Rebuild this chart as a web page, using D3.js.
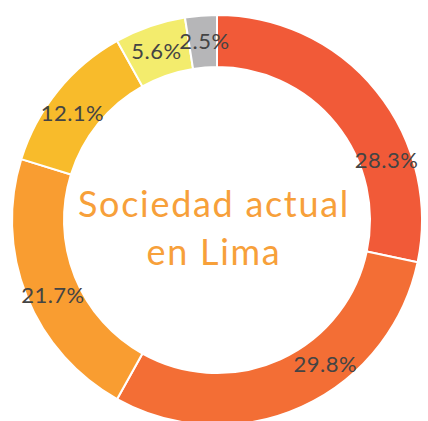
<!DOCTYPE html>
<html>
<head>
<meta charset="utf-8">
<script src="https://cdn.jsdelivr.net/npm/d3@7"></script>
<style>
  body { margin: 0; background: #fff; }
  svg { display: block; }
</style>
</head>
<body>
<script>
// Data, clockwise from 12 o'clock
var categories = ["A", "B", "C", "D", "E", "F"];
var values = [28.3, 29.8, 21.7, 12.1, 5.6, 2.5];
var labels = ["28.3%", "29.8%", "21.7%", "12.1%", "5.6%", "2.5%"];
var titleLines = ["Sociedad actual", "en Lima"];

var colors = ["#F15A38", "#F36E35", "#F99D31", "#F8BB2B", "#F3EC6D", "#B6B6B8"];

// small angle nudges (degrees) so labels sit where the original puts them
var labelNudge = [19.5, -12.5, -2.5, -2.5, -0.6, 0.5];

var svgWidth = 428;
var svgHeight = 421;
var cx = 217, cy = 220;
var outerR = 205, innerR = 153, labelR = 180;

var svg = d3.select("body")
  .append("svg")
  .attr("width", svgWidth)
  .attr("height", svgHeight);

var chartGroup = svg.append("g")
  .attr("transform", `translate(${cx}, ${cy})`);

var color = d3.scaleOrdinal()
  .domain(categories)
  .range(colors);

var data = categories.map((c, i) => ({ cat: c, value: values[i], label: labels[i], i: i }));

var pie = d3.pie()
  .sort(null)
  .value(d => d.value);

var arc = d3.arc()
  .innerRadius(innerR)
  .outerRadius(outerR);

var arcs = pie(data);

chartGroup.selectAll("path.slice")
  .data(arcs)
  .enter()
  .append("path")
  .attr("class", "slice")
  .attr("d", arc)
  .attr("fill", d => color(d.data.cat))
  .attr("stroke", "#fff")
  .attr("stroke-width", 2);

function labelAngle(d) {
  return (d.startAngle + d.endAngle) / 2 + labelNudge[d.data.i] * Math.PI / 180;
}

// labels
chartGroup.selectAll("text.lbl")
  .data(arcs)
  .enter()
  .append("text")
  .attr("class", "lbl")
  .attr("x", d => labelR * Math.sin(labelAngle(d)))
  .attr("y", d => -labelR * Math.cos(labelAngle(d)))
  .attr("text-anchor", "middle")
  .attr("dominant-baseline", "central")
  .attr("font-family", "Lato, sans-serif")
  .attr("font-size", 22)
  .attr("letter-spacing", 0.5)
  .attr("fill", "#444")
  .text(d => d.data.label);

// center title
chartGroup.selectAll("text.title")
  .data(titleLines)
  .enter()
  .append("text")
  .attr("class", "title")
  .attr("x", -3)
  .attr("y", (d, i) => -3 + i * 48)
  .attr("text-anchor", "middle")
  .attr("font-family", "Lato, sans-serif")
  .attr("font-size", 36)
  .attr("letter-spacing", 1.7)
  .attr("fill", "#F7A03A")
  .text(d => d);
</script>
</body>
</html>
